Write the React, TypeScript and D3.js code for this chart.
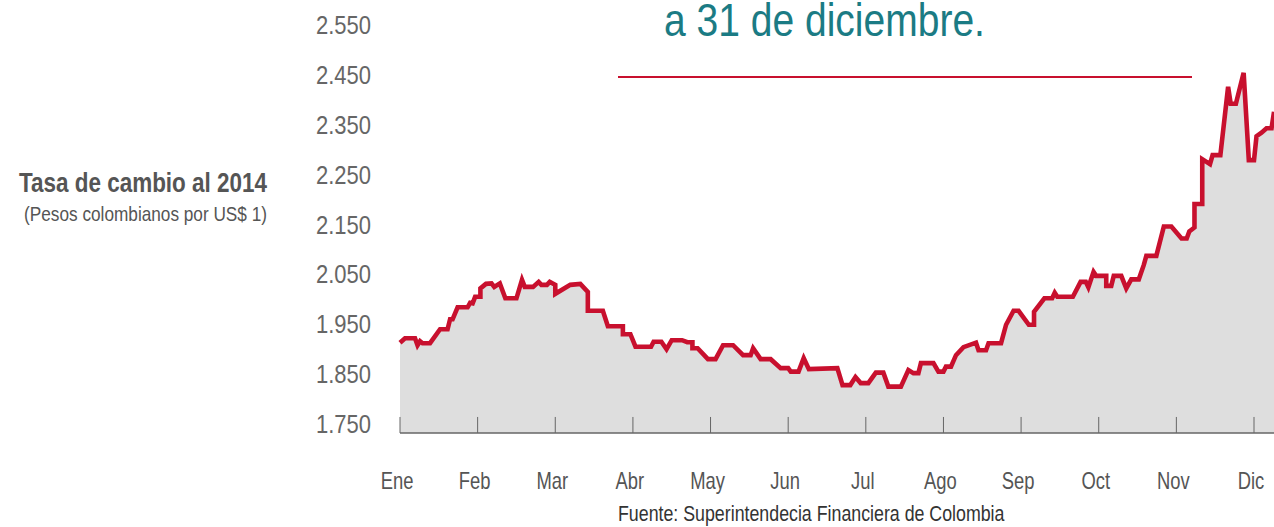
import * as d3 from "d3";

// tasa representativa del mercado 2014
const monthLabels = ["Ene", "Feb", "Mar", "Abr", "May", "Jun", "Jul", "Ago", "Sep", "Oct", "Nov", "Dic"];
const yTicks = [1750, 1850, 1950, 2050, 2150, 2250, 2350, 2450, 2550];

const rateDates = [
  "01-01", "01-03", "01-07", "01-08", "01-09", "01-10", "01-13", "01-17", "01-20", "01-21", "01-22", "01-24", "01-28", "01-29", "01-30", "01-31",
  "02-02", "02-02", "02-04", "02-06", "02-07", "02-09", "02-11", "02-15", "02-17", "02-18", "02-21", "02-23", "02-24", "02-26", "02-27",
  "03-01", "03-01", "03-07", "03-11", "03-14", "03-14", "03-20", "03-22", "03-28", "03-28", "03-31",
  "04-02", "04-08", "04-09", "04-12", "04-14", "04-16", "04-20", "04-22", "04-24", "04-24", "04-26", "04-30",
  "05-03", "05-06", "05-10", "05-14", "05-17", "05-18", "05-21", "05-25", "05-29",
  "06-01", "06-02", "06-05", "06-07", "06-09", "06-20", "06-22", "06-25", "06-27", "06-29",
  "07-02", "07-05", "07-08", "07-10", "07-15", "07-18", "07-20", "07-22", "07-23", "07-28", "07-30",
  "08-01", "08-02", "08-04", "08-06", "08-09", "08-14", "08-15", "08-18", "08-19", "08-24", "08-26", "08-29", "08-31",
  "09-04", "09-06", "09-06", "09-10", "09-13", "09-14", "09-15", "09-21", "09-24", "09-26", "09-27", "09-29", "09-30",
  "10-04", "10-04", "10-06", "10-07", "10-10", "10-12", "10-14", "10-17", "10-19", "10-20", "10-24", "10-27", "10-30",
  "11-03", "11-05", "11-06", "11-08", "11-08", "11-11", "11-11", "11-14", "11-15", "11-18", "11-21", "11-22", "11-24", "11-27", "11-29",
  "12-01", "12-02", "12-04", "12-06", "12-08", "12-09",
];
const rateValues = [
  1913, 1922, 1922, 1908, 1916, 1912, 1912, 1940, 1940, 1960, 1960, 1984, 1984, 1993, 1992, 2005,
  2005, 2022, 2031, 2032, 2025, 2032, 2002, 2002, 2039, 2025, 2025, 2035, 2029, 2029, 2035,
  2029, 2011, 2029, 2031, 2015, 1977, 1977, 1946, 1946, 1930, 1930,
  1905, 1905, 1915, 1915, 1900, 1918, 1918, 1914, 1914, 1902, 1902, 1880,
  1880, 1908, 1908, 1888, 1888, 1902, 1880, 1880, 1862,
  1862, 1855, 1855, 1882, 1860, 1862, 1828, 1828, 1844, 1832,
  1832, 1853, 1853, 1825, 1825, 1858, 1852, 1852, 1872, 1872, 1855,
  1855, 1865, 1865, 1888, 1904, 1913, 1898, 1898, 1912, 1912, 1949, 1977, 1977,
  1949, 1949, 1975, 2002, 2002, 2013, 2005, 2005, 2035, 2035, 2024, 2055, 2047,
  2047, 2027, 2027, 2047, 2047, 2022, 2040, 2040, 2069, 2087, 2087, 2146, 2146,
  2122, 2122, 2136, 2144, 2191, 2191, 2281, 2271, 2289, 2289, 2426, 2392, 2392, 2454, 2279,
  2279, 2327, 2334, 2343, 2343, 2376,
];

const W = 1274;
const H = 527;
const sans = "'Liberation Sans', Arial, sans-serif";
const red = "#c8102e";

const parse = d3.timeParse("%Y-%m-%d");
const data = rateDates.map((d, i) => ({ date: parse("2014-" + d) as Date, value: rateValues[i] }));

const fmt = d3.formatLocale({ decimal: ",", thousands: ".", grouping: [3], currency: ["$", ""] }).format(",.0f");

// texto angosto: Liberation Sans comprimido en horizontal
function NText({ x, y, size, sx = 0.82, anchor = "start", weight = "normal", fill = "#555", children }: any) {
  return (
    <text
      transform={`translate(${x},${y}) scale(${sx},1)`}
      textAnchor={anchor}
      fontFamily={sans}
      fontSize={size}
      fontWeight={weight}
      fill={fill}
    >
      {children}
    </text>
  );
}

export default function App() {
  // meses repartidos por igual, como en el original
  const monthStarts = d3.range(13).map((m) => new Date(2014, m, 1));
  const monthPos = d3.scaleLinear().domain([0, 11]).range([400, 1254]);
  const x = d3.scaleTime().domain(monthStarts).range(monthStarts.map((_, i) => monthPos(i)));
  const y = d3.scaleLinear().domain([1750, 2550]).range([424, 25]);
  const baseY = y(1732);

  const area = d3
    .area<{ date: Date; value: number }>()
    .x((d) => x(d.date))
    .y0(baseY)
    .y1((d) => y(d.value));
  const line = d3
    .line<{ date: Date; value: number }>()
    .x((d) => x(d.date))
    .y((d) => y(d.value));

  return (
    <svg width={W} height={H} style={{ position: "absolute", left: 0, top: 0, background: "#fff" }}>
      {/* encabezado */}
      <NText x={664} y={36} size={47} sx={0.83} fill="#1b7b84">
        a 31 de diciembre.
      </NText>
      <line x1={618} x2={1192} y1={77} y2={77} stroke={red} strokeWidth={2} />

      {/* título a la izquierda */}
      <NText x={267} y={192} anchor="end" size={27.4} weight="bold" fill="#555">
        Tasa de cambio al 2014
      </NText>
      <NText x={267} y={221} anchor="end" size={21} fill="#555">
        (Pesos colombianos por US$ 1)
      </NText>

      {/* eje y */}
      {yTicks.map((v) => (
        <NText key={v} x={371} y={y(v) + 9} anchor="end" size={25} sx={0.88} fill="#666">
          {fmt(v)}
        </NText>
      ))}

      {/* área y línea */}
      <path d={area(data) ?? ""} fill="#dedede" />
      <path d={line(data) ?? ""} fill="none" stroke={red} strokeWidth={4.6} strokeLinejoin="miter" />

      {/* eje x */}
      <line x1={monthPos(0)} x2={W} y1={baseY} y2={baseY} stroke="#666" strokeWidth={1.5} />
      {monthLabels.map((m, i) => (
        <g key={m}>
          <line x1={monthPos(i)} x2={monthPos(i)} y1={baseY - 16} y2={baseY} stroke="#666" strokeWidth={1} />
          <NText x={monthPos(i) - 3} y={489} anchor="middle" size={23} sx={0.8} fill="#555">
            {m}
          </NText>
        </g>
      ))}

      <NText x={618} y={521} size={21.7} fill="#333">
        Fuente: Superintendecia Financiera de Colombia
      </NText>
    </svg>
  );
}
